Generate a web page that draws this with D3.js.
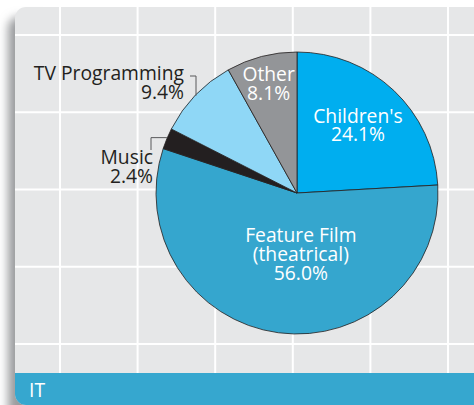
<!DOCTYPE html>
<html>
<head>
<meta charset="utf-8">
<script src="https://cdn.jsdelivr.net/npm/d3@7"></script>
<style>
  html, body { margin: 0; padding: 0; background: #ffffff; }
  svg { display: block; }
  text { font-family: "Open Sans", "Noto Sans", sans-serif; }
</style>
</head>
<body>
<script>
// Revenue share by content type
const categories = ["Children's", "Feature Film", "Music", "TV Programming", "Other"];
const shares = [24.1, 56.0, 2.4, 9.4, 8.1];
const sliceColors = ["#00aeef", "#35a6ce", "#231f20", "#8fd7f6", "#939598"];
const labelNames = [["Children's"], ["Feature Film", "(theatrical)"], ["Music"], ["TV Programming"], ["Other"]];
const footerTitle = "IT";

const W = 474, H = 405;
const svg = d3.select("body").append("svg").attr("width", W).attr("height", H);

// panel geometry
const panel = { x: 15, y: 7, w: 480, r: 11 };
const footerTop = 373;

const defs = svg.append("defs");
const shadow = defs.append("filter").attr("id", "panelShadow")
  .attr("x", "-20%").attr("y", "-20%").attr("width", "140%").attr("height", "140%");
shadow.append("feGaussianBlur").attr("stdDeviation", 5);

const clip = defs.append("clipPath").attr("id", "panelClip");
clip.append("rect").attr("x", panel.x).attr("y", panel.y)
  .attr("width", panel.w).attr("height", H - panel.y).attr("rx", panel.r);

// soft shadow on the left side of the card
svg.append("rect")
  .attr("x", panel.x - 7).attr("y", panel.y + 10)
  .attr("width", 40).attr("height", H)
  .attr("rx", panel.r)
  .attr("fill", "#9a9b9e")
  .attr("filter", "url(#panelShadow)");

const card = svg.append("g").attr("clip-path", "url(#panelClip)");
card.append("rect").attr("x", panel.x).attr("y", panel.y)
  .attr("width", panel.w).attr("height", H).attr("fill", "#e6e7e8");

// background grid
const gx = d3.scaleLinear().domain([0, 5]).range([60, 448]);
const gy = d3.scaleLinear().domain([0, 4]).range([35, 344]);
card.append("g").selectAll("line").data(d3.range(0, 6)).join("line")
  .attr("x1", d => gx(d)).attr("x2", d => gx(d))
  .attr("y1", panel.y).attr("y2", footerTop)
  .attr("stroke", "#ffffff").attr("stroke-width", 2);
card.append("g").selectAll("line").data(d3.range(0, 5)).join("line")
  .attr("x1", panel.x).attr("x2", W)
  .attr("y1", d => gy(d)).attr("y2", d => gy(d))
  .attr("stroke", "#ffffff").attr("stroke-width", 2);

// footer band
card.append("rect").attr("x", panel.x).attr("y", footerTop)
  .attr("width", panel.w).attr("height", H - footerTop)
  .attr("fill", "#36a7cf");
svg.append("text").attr("x", 29).attr("y", 397)
  .attr("fill", "#ffffff").attr("font-size", 19.3)
  .text(footerTitle);

// pie
const cx = 297, cy = 193, R = 141;
const pie = d3.pie().sort(null).value(d => d)(shares);
const arc = d3.arc().innerRadius(0).outerRadius(R);
const g = svg.append("g").attr("transform", `translate(${cx},${cy})`);
g.selectAll("path").data(pie).join("path")
  .attr("d", arc)
  .attr("fill", (d, i) => sliceColors[i])
  .attr("stroke", "#231f20").attr("stroke-width", 0.8)
  .attr("stroke-linejoin", "round");

const fmt = v => v.toFixed(1) + "%";
const fontSize = 19.3, lineH = 18.8;

// inside labels: radius fraction along the slice mid-angle, plus a nudge
const inside = [
  { i: 0, rf: 0.65, dx: -2, dy: -1 },
  { i: 1, rf: 0.44, dx: 12, dy: 0 },
  { i: 4, rf: 0.80, dx: 0, dy: 0 }
];
inside.forEach(o => {
  const d = pie[o.i];
  const a = (d.startAngle + d.endAngle) / 2;
  const px = Math.sin(a) * R * o.rf + o.dx;
  const py = -Math.cos(a) * R * o.rf + o.dy;
  const lines = labelNames[o.i].concat([fmt(shares[o.i])]);
  const first = py + 6.5 - (lines.length - 1) * lineH / 2;
  const t = g.append("text").attr("text-anchor", "middle")
    .attr("fill", "#ffffff").attr("font-size", fontSize);
  lines.forEach((s, j) => t.append("tspan").attr("x", px).attr("y", first + j * lineH).text(s));
});

// outside labels, right-aligned
const outside = [
  { i: 3, x: 184 - cx, y: 80 - cy },
  { i: 2, x: 153 - cx, y: 164 - cy }
];
outside.forEach(o => {
  const lines = labelNames[o.i].concat([fmt(shares[o.i])]);
  const t = g.append("text").attr("text-anchor", "end")
    .attr("fill", "#231f20").attr("font-size", fontSize);
  lines.forEach((s, j) => t.append("tspan").attr("x", o.x).attr("y", o.y + j * lineH).text(s));
});

// TV Programming leader: short tick then drop to the rim
{
  const lx = 196 - cx, ly = 76 - cy;
  const yRim = -Math.sqrt(R * R - lx * lx);
  g.append("path")
    .attr("d", `M${190 - cx},${ly}H${lx}V${yRim + 1}`)
    .attr("fill", "none").attr("stroke", "#58595b").attr("stroke-width", 1);
}
// Music leader: up from the label then across to the rim
{
  const d = pie[2];
  const a = (d.startAngle + d.endAngle) / 2;
  const ex = Math.sin(a) * R, ey = -Math.cos(a) * R;
  const lx = 151 - cx;
  g.append("path")
    .attr("d", `M${lx},${150 - cy}V${ey - 1}H${ex}`)
    .attr("fill", "none").attr("stroke", "#58595b").attr("stroke-width", 1);
}
</script>
</body>
</html>
